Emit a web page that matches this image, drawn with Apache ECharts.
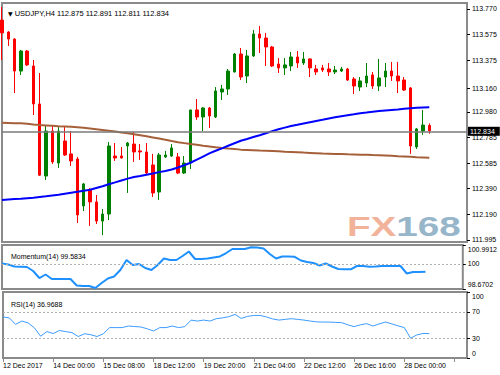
<!DOCTYPE html>
<html><head><meta charset="utf-8">
<script src="https://cdn.jsdelivr.net/npm/echarts@6/dist/echarts.min.js"></script>
<style>html,body{margin:0;padding:0;background:#fff}#c{width:500px;height:375px}</style>
</head><body><div id="c"></div>
<script>
// ---- data ----
const symbolName = 'USDJPY,H4';
const lastOHLC = [112.875, 112.891, 112.811, 112.834];
const dateLabels = ['12 Dec 2017','14 Dec 00:00','15 Dec 08:00','18 Dec 12:00','19 Dec 20:00','21 Dec 04:00','22 Dec 12:00','26 Dec 16:00','28 Dec 00:00'];
const barsPerLabel = 8;
const slotCount = 75; // bar slots incl. the empty right margin
// [open, high, low, close]
const ohlc = [
[113.685,113.785,113.378,113.586],[113.593,113.600,113.486,113.539],[113.539,113.545,113.124,113.293],[113.293,113.455,113.263,113.447],
[113.447,113.455,113.332,113.340],[113.332,113.378,112.955,113.040],[113.040,113.278,112.486,112.493],[112.486,112.871,112.456,112.832],
[112.832,112.871,112.579,112.594],[112.586,112.871,112.548,112.832],[112.755,112.863,112.640,112.648],[112.656,112.832,112.563,112.602],
[112.617,112.633,112.125,112.187],[112.256,112.433,112.217,112.425],[112.379,112.394,112.102,112.287],[112.287,112.340,112.117,112.140],
[112.140,112.233,112.032,112.194],[112.194,112.748,112.148,112.717],[112.640,112.740,112.602,112.625],[112.640,112.709,112.620,112.625],
[112.717,112.748,112.356,112.740],[112.732,112.825,112.594,112.671],[112.679,112.732,112.610,112.671],[112.671,112.740,112.501,112.509],
[112.571,112.656,112.325,112.356],[112.363,112.663,112.302,112.648],[112.633,112.679,112.625,112.648],[112.640,112.732,112.633,112.702],
[112.633,112.663,112.501,112.509],[112.509,112.640,112.501,112.586],[112.586,112.994,112.540,112.994],[112.994,113.078,112.917,112.940],
[112.940,113.017,112.832,113.009],[113.009,113.017,112.855,112.948],[112.940,113.170,112.932,113.140],[113.132,113.186,113.071,113.155],
[113.155,113.309,113.109,113.293],[113.286,113.432,113.282,113.424],[113.424,113.470,113.224,113.247],[113.255,113.455,113.201,113.409],
[113.409,113.609,113.401,113.578],[113.578,113.639,113.432,113.547],[113.547,113.586,113.332,113.478],[113.478,113.486,113.324,113.332],
[113.347,113.393,113.278,113.317],[113.317,113.393,113.263,113.340],[113.332,113.440,113.293,113.401],[113.401,113.447,113.317,113.355],
[113.355,113.440,113.340,113.386],[113.386,113.390,113.247,113.317],[113.309,113.340,113.263,113.286],[113.317,113.340,113.286,113.301],
[113.309,113.355,113.255,113.286],[113.286,113.332,113.270,113.301],[113.293,113.324,113.286,113.309],[113.309,113.317,113.217,113.224],
[113.232,113.247,113.117,113.178],[113.170,113.247,113.140,113.217],[113.201,113.355,113.170,113.255],[113.263,113.286,113.155,113.178],
[113.178,113.386,113.140,113.240],[113.247,113.355,113.170,113.293],[113.293,113.363,113.217,113.255],[113.255,113.363,113.124,113.217],
[113.224,113.247,113.140,113.147],[113.163,113.170,112.656,112.717],[112.709,112.855,112.694,112.848],[112.832,112.994,112.802,112.878],
[112.875,112.891,112.811,112.834]
];
const maBlue = [
112.302,112.306,112.310,112.312,112.316,112.320,112.325,112.330,112.336,112.342,
112.350,112.358,112.365,112.373,112.380,112.394,112.408,112.423,112.437,112.452,
112.466,112.479,112.486,112.496,112.506,112.516,112.525,112.536,112.552,112.569,
112.588,112.612,112.636,112.660,112.680,112.699,112.719,112.738,112.757,112.771,
112.786,112.800,112.815,112.831,112.845,112.858,112.871,112.880,112.890,112.900,
112.909,112.918,112.928,112.938,112.946,112.954,112.961,112.969,112.974,112.980,
112.985,112.990,112.994,112.998,113.003,113.007,113.010,113.013,113.015];
const maBrown = [
112.895,112.894,112.892,112.891,112.888,112.882,112.878,112.875,112.872,112.869,
112.867,112.865,112.861,112.857,112.852,112.846,112.840,112.834,112.828,112.821,
112.815,112.808,112.800,112.792,112.783,112.774,112.765,112.755,112.746,112.739,
112.732,112.726,112.719,112.713,112.707,112.702,112.697,112.693,112.689,112.687,
112.685,112.682,112.680,112.678,112.676,112.673,112.671,112.669,112.666,112.664,
112.662,112.659,112.658,112.656,112.655,112.653,112.652,112.650,112.649,112.647,
112.646,112.644,112.642,112.639,112.637,112.634,112.631,112.629,112.626];
const momentum = [
100.015,99.963,99.857,99.847,99.831,99.620,99.250,99.435,99.198,99.198,
99.198,99.198,98.855,98.828,98.828,98.723,98.987,99.224,99.330,99.672,
100.200,99.936,99.989,99.778,99.672,99.936,100.279,100.200,100.200,100.411,
100.648,100.253,100.253,100.279,100.332,100.385,100.569,100.780,100.780,100.780,
100.870,100.859,100.807,100.516,100.279,100.385,100.385,100.369,100.174,100.094,
100.042,99.910,100.015,99.857,99.725,99.709,99.709,99.883,99.883,99.847,
99.857,99.883,99.883,99.883,99.883,99.488,99.567,99.567,99.5834];
const rsi = [
62.25,60.75,51.0,55.95,53.25,45.75,33.0,40.05,37.05,41.7,
40.05,38.55,32.55,36.75,35.25,32.55,36.75,46.05,46.05,46.05,
48.45,47.7,46.95,44.25,40.95,46.05,46.05,48.45,46.05,47.55,
57.45,55.95,57.45,55.95,59.55,60.75,62.55,66.0,60.0,63.0,
64.5,64.5,62.25,59.25,57.45,58.5,59.55,58.5,57.45,55.95,
54.75,54.45,54.45,54.0,53.55,50.25,47.55,50.25,52.05,48.45,
51.75,54.45,51.75,48.75,46.05,30.0,34.95,37.2,36.9688];
const priceTicks = [113.770,113.575,113.375,113.160,112.980,112.785,112.585,112.390,112.190,111.995];
const priceRange = [111.979, 113.816];
const lastPrice = 112.834;
const momTicks = [100.9912, 100, 98.6702];
const momRange = [98.6702, 100.9912];
const momLevel = 100;
const momLast = 99.5834;
const rsiTicks = [100, 70, 30, 0];
const rsiLevels = [70, 30];
const rsiLast = 36.9688;

// ---- chart ----
const FONT = 'Liberation Sans';
const frame = '#8a8a8a';
const cats = Array.from({length: slotCount}, (_, i) => i);
const candleData = ohlc.map(d => [d[0], d[3], d[2], d[1]]);

const grids = [
  {left: 2, right: 33, top: 3, height: 239},
  {left: 2, right: 33, top: 245, height: 44},
  {left: 2, right: 33, top: 292, height: 66}
].map(g => Object.assign(g, {show: true, borderColor: frame, borderWidth: 2, backgroundColor: '#fff'}));

function xAx(idx, showLabels) {
  return {
    type: 'category', gridIndex: idx, data: cats, boundaryGap: false,
    axisLine: {show: false},
    axisTick: {show: showLabels, interval: barsPerLabel - 1, length: 4, lineStyle: {color: frame}},
    axisLabel: {show: showLabels, interval: barsPerLabel - 1, align: 'left', margin: 4,
      fontFamily: FONT, fontSize: 7, color: '#000',
      formatter: (v, i) => dateLabels[i / barsPerLabel] || ''},
    splitLine: {show: false}
  };
}
function yAx(idx, range, ticks, fmt, rich) {
  return {
    type: 'value', gridIndex: idx, position: 'right', min: range[0], max: range[1], scale: true,
    axisLine: {show: false}, splitLine: {show: false},
    axisTick: {show: true, customValues: ticks, length: 3, lineStyle: {color: '#000'}},
    axisLabel: {show: true, customValues: ticks, margin: 5, fontFamily: FONT, fontSize: 7, color: '#000',
      formatter: fmt, rich: rich || {}}
  };
}
const edgeRich = {t: {padding: [9, 0, 0, 0], fontFamily: FONT, fontSize: 7, color: '#000'},
                  b: {padding: [0, 0, 9, 0], fontFamily: FONT, fontSize: 7, color: '#000'}};
const edgeFmt = (hi, lo, txt) => v => v === hi ? '{t|' + txt(v) + '}' : (v === lo ? '{b|' + txt(v) + '}' : txt(v));

const chart = echarts.init(document.getElementById('c'), null, {renderer: 'svg'});
chart.setOption({
  animation: false,
  backgroundColor: '#fff',
  grid: grids,
  xAxis: [xAx(0, false), xAx(1, false), xAx(2, true)],
  yAxis: [
    yAx(0, priceRange, priceTicks, v => v.toFixed(3)),
    yAx(1, momRange, momTicks, edgeFmt(momRange[1], momRange[0], v => String(v)), edgeRich),
    yAx(2, [0, 100], rsiTicks, edgeFmt(100, 0, v => String(v)), edgeRich)
  ],
  title: [
    {left: 3, top: 4, text: '{tri|▼} ' + symbolName + ' ' + lastOHLC.map(v => v.toFixed(3)).join(' '),
     textStyle: {fontFamily: FONT, fontSize: 7.5, fontWeight: 'normal', color: '#000',
       rich: {tri: {fontSize: 6, color: '#000', fontFamily: 'DejaVu Sans'}}}},
    {left: 6, top: 248, text: 'Momentum(14) ' + momLast.toFixed(4),
     textStyle: {fontFamily: FONT, fontSize: 7, fontWeight: 'normal', color: '#000'}},
    {left: 6, top: 296, text: 'RSI(14) ' + rsiLast.toFixed(4),
     textStyle: {fontFamily: FONT, fontSize: 7, fontWeight: 'normal', color: '#000'}}
  ],
  graphic: [{
    type: 'text', x: 347, y: 212, scaleX: 1.38, z: 0, silent: true,
    style: {text: '{a|FX}{b|168}', font: 'bold 28px "Liberation Sans"',
      rich: {a: {fill: '#f2b39b', color: '#f2b39b', fontSize: 28, fontWeight: 'bold', fontFamily: FONT},
             b: {fill: '#97b6ca', color: '#97b6ca', fontSize: 28, fontWeight: 'bold', fontFamily: FONT}}}
  }],
  series: [
    {type: 'candlestick', xAxisIndex: 0, yAxisIndex: 0, data: candleData, barWidth: 3, clip: true,
     itemStyle: {color: '#008000', color0: '#ff0000', borderColor: '#008000', borderColor0: '#ff0000', borderWidth: 1},
     markLine: {symbol: 'none', silent: true, animation: false,
       lineStyle: {color: '#7a7a7a', width: 1.5, type: 'solid'},
       label: {position: 'end', distance: 1, formatter: lastPrice.toFixed(3), backgroundColor: '#000', color: '#fff',
               fontFamily: FONT, fontSize: 7, padding: [1, 5, 1, 2]},
       data: [{yAxis: lastPrice}]}},
    {type: 'line', xAxisIndex: 0, yAxisIndex: 0, data: maBrown, symbol: 'none', lineStyle: {color: '#a5603a', width: 2}},
    {type: 'line', xAxisIndex: 0, yAxisIndex: 0, data: maBlue, symbol: 'none', lineStyle: {color: '#0000ff', width: 2}},
    {type: 'line', xAxisIndex: 1, yAxisIndex: 1, data: momentum, symbol: 'none', lineStyle: {color: '#1e90ff', width: 2},
     markLine: {symbol: 'none', silent: true, label: {show: false},
       lineStyle: {color: '#b0b0b0', width: 1, type: [2, 2]}, data: [{yAxis: momLevel}]}},
    {type: 'line', xAxisIndex: 2, yAxisIndex: 2, data: rsi, symbol: 'none', lineStyle: {color: '#3c9cff', width: 1},
     markLine: {symbol: 'none', silent: true, label: {show: false},
       lineStyle: {color: '#b0b0b0', width: 1, type: [2, 2]}, data: rsiLevels.map(v => ({yAxis: v}))}}
  ]
});
</script>
</body></html>
